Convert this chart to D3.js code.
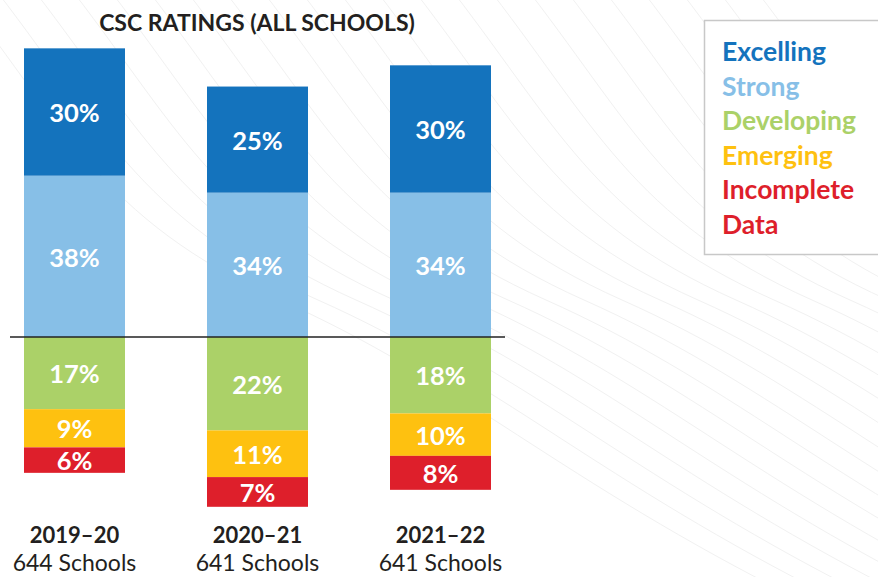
<!DOCTYPE html>
<html><head><meta charset="utf-8">
<script src="https://cdn.jsdelivr.net/npm/d3@7"></script>
<style>body{margin:0;background:#fff}svg{display:block;font-family:Lato,"Open Sans",sans-serif}</style>
</head><body><svg id="c" width="878" height="577"></svg>
<script>
const years = ["2019–20","2020–21","2021–22"];
const schools = ["644 Schools","641 Schools","641 Schools"];
const categories = ["Excelling","Strong","Developing","Emerging","Incomplete Data"];
const excelling = [30,25,30];
const strong = [38,34,34];
const developing = [17,22,18];
const emerging = [9,11,10];
const incomplete = [6,7,8];
const colors = ["#1473bd","#87bfe7","#abd168","#fec110","#de1f2b"];

const svg = d3.select("#c");
// faint decorative background curves
const bg = svg.append("g");
for(let i=0;i<22;i++){
  const o = i*38 - 200;
  bg.append("path")
    .attr("d",`M${o+150},-20 C${o+260},120 ${o+300},220 ${o+480},300 S${o+760},480 ${o+1000},600`)
    .attr("fill","none").attr("stroke","#f1f1f1").attr("stroke-width",1);
}

const xb = d3.scalePoint().domain(years).range([24,390]);
const bw = 101;
const y = d3.scaleLinear().domain([0,1]).range([337,337-4.245]);

const segs = [];
years.forEach((yr,i)=>{
  let acc = 0;
  [[1,strong],[0,excelling]].forEach(([ci,arr])=>{
    segs.push({yr, ci, v:arr[i], y0:acc, y1:acc+arr[i]}); acc += arr[i];
  });
  acc = 0;
  [[2,developing],[3,emerging],[4,incomplete]].forEach(([ci,arr])=>{
    segs.push({yr, ci, v:arr[i], y0:acc, y1:acc-arr[i]}); acc -= arr[i];
  });
});

const g = svg.append("g");
g.selectAll("rect").data(segs).join("rect")
  .attr("x",d=>xb(d.yr)).attr("width",bw)
  .attr("y",d=>Math.min(y(d.y0),y(d.y1)))
  .attr("height",d=>Math.abs(y(d.y1)-y(d.y0)))
  .attr("fill",d=>colors[d.ci]);
g.selectAll("text").data(segs).join("text")
  .attr("x",d=>xb(d.yr)+bw/2)
  .attr("y",d=>(y(d.y0)+y(d.y1))/2+1)
  .attr("dy","0.36em")
  .attr("text-anchor","middle").attr("fill","#fff")
  .attr("font-weight",700).attr("font-size",25.5)
  .text(d=>d.v+"%");

svg.append("line").attr("x1",10).attr("x2",505).attr("y1",y(0)).attr("y2",y(0))
  .attr("stroke","#222").attr("stroke-width",1.3);

svg.append("text").attr("x",257).attr("y",31).attr("text-anchor","middle")
  .attr("font-weight",700).attr("font-size",23).attr("fill","#231f20")
  .text("CSC RATINGS (ALL SCHOOLS)");

const lab = svg.append("g");
years.forEach((yr,i)=>{
  lab.append("text").attr("x",xb(yr)+bw/2).attr("y",543).attr("text-anchor","middle")
    .attr("font-weight",700).attr("font-size",22).attr("fill","#231f20").text(yr);
  lab.append("text").attr("x",xb(yr)+bw/2).attr("y",571).attr("text-anchor","middle")
    .attr("font-size",23).attr("fill","#231f20").text(schools[i]);
});

// legend
const lg = svg.append("g");
lg.append("rect").attr("x",704.5).attr("y",20.5).attr("width",180).attr("height",234)
  .attr("fill","#fff").attr("stroke","#c8c8c8").attr("stroke-width",1.5);
const legLines = [["Excelling",0],["Strong",1],["Developing",2],["Emerging",3],["Incomplete",4],["Data",4]];
legLines.forEach(([t,ci],k)=>{
  lg.append("text").attr("x",722).attr("y",61+k*34.6)
    .attr("font-weight",700).attr("font-size",26.5).attr("fill",colors[ci]).text(t);
});
</script></body></html>
